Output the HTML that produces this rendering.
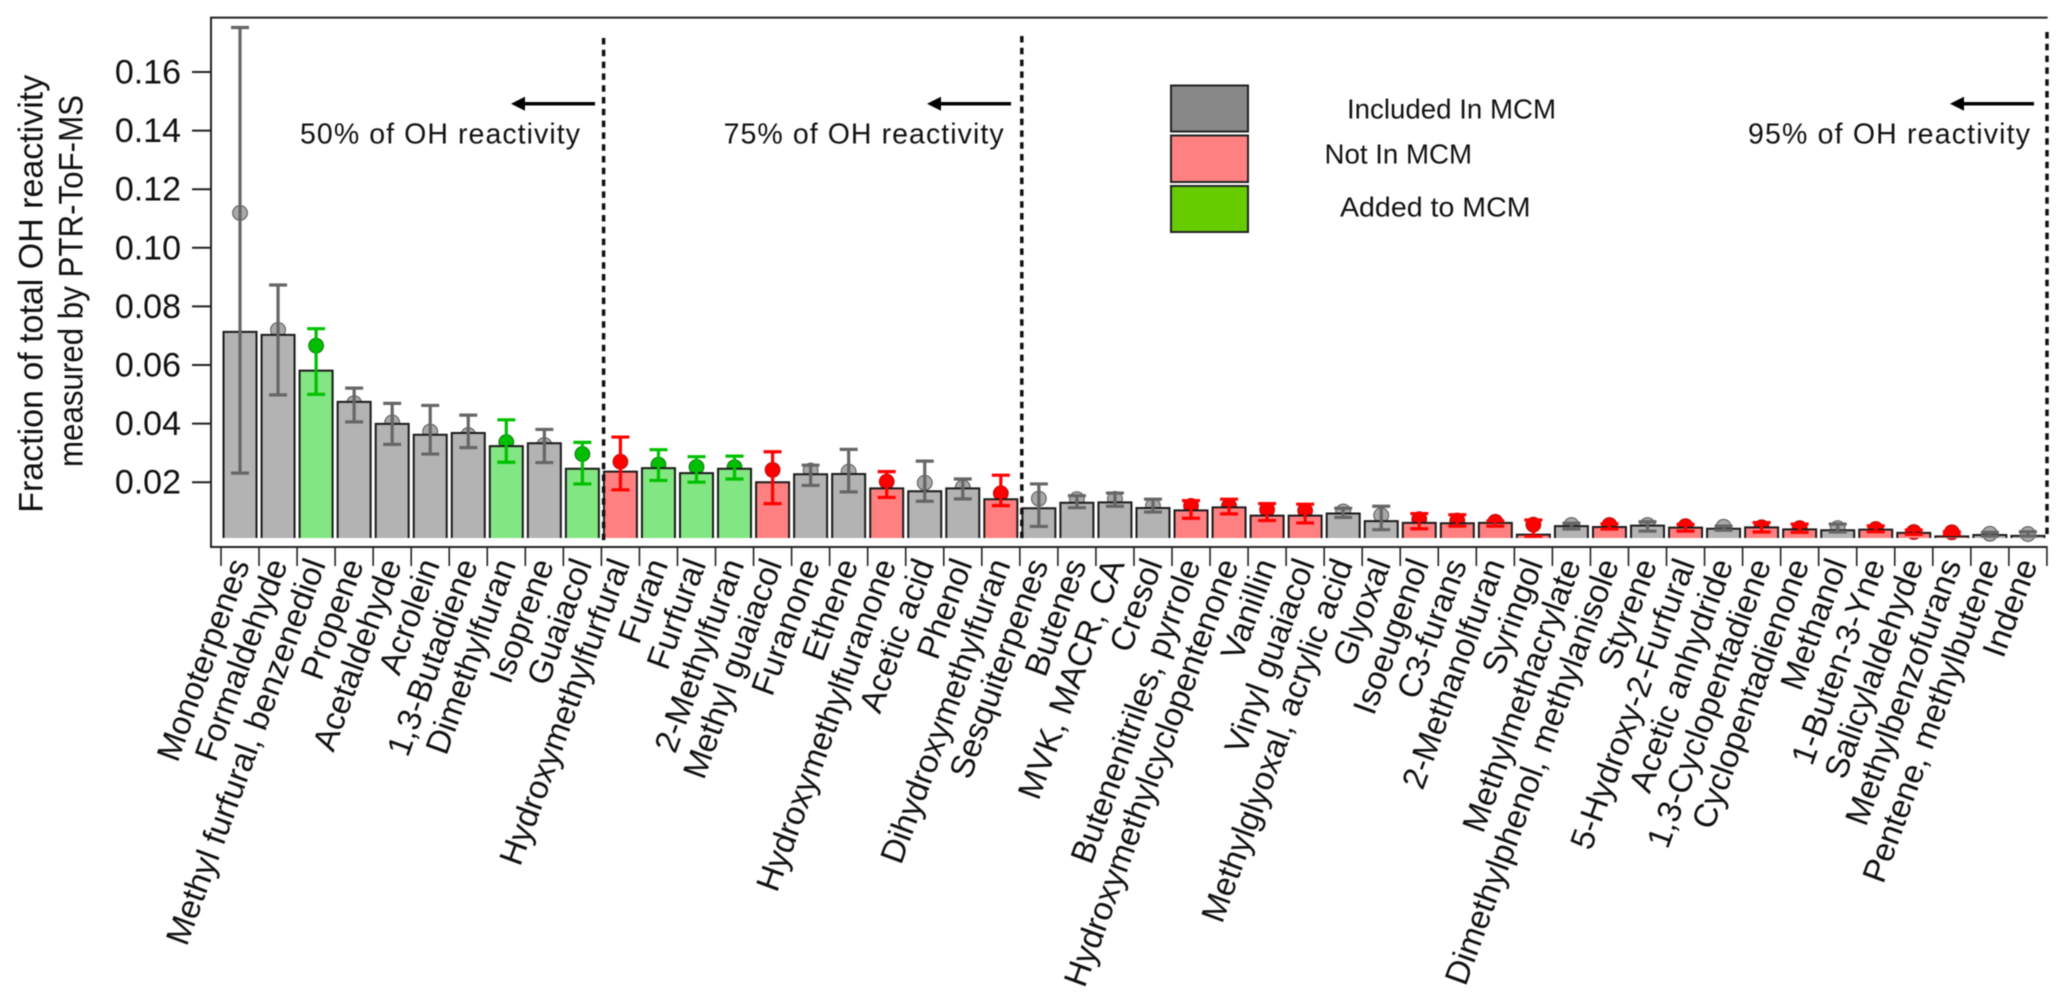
<!DOCTYPE html>
<html lang="en">
<head>
<meta charset="utf-8">
<title>Fraction of total OH reactivity measured by PTR-ToF-MS</title>
<style>
  html, body { margin: 0; padding: 0; background: #fff; }
  svg { display: block; font-family: "Liberation Sans", sans-serif; fill: #111; filter: blur(0.4px); }
</style>
</head>
<body>
<svg id="chart" width="2067" height="1000" viewBox="0 0 2067 1000" xmlns="http://www.w3.org/2000/svg">
  <rect x="0" y="0" width="2067" height="1000" fill="#fff"/>
  <g id="marks"></g>

  <path d="M2047.6 17.6H211V547H2047.6" fill="none" stroke="#222" stroke-width="2"/>

  <g id="y-axis"></g>
  <g id="x-axis"></g>

  <text transform="translate(42.4,512.8) rotate(-90)" font-size="34" textLength="438" lengthAdjust="spacingAndGlyphs">Fraction of total OH reactivity</text>
  <text transform="translate(82.6,467) rotate(-90)" font-size="34" textLength="372" lengthAdjust="spacingAndGlyphs">measured by PTR-ToF-MS</text>

  <line x1="603.6" y1="38" x2="603.6" y2="541.5" stroke="#111" stroke-width="3.5" stroke-dasharray="6.5 5.3"/>
  <line x1="1021.8" y1="36" x2="1021.8" y2="541.5" stroke="#111" stroke-width="3.5" stroke-dasharray="6.5 5.3"/>
  <line x1="2047" y1="32" x2="2047" y2="536" stroke="#111" stroke-width="3.5" stroke-dasharray="6.5 5.3"/>

  <g fill="#000" stroke="#000">
    <line x1="595" y1="103.7" x2="522" y2="103.7" stroke-width="3.5"/>
    <polygon points="511,103.7 525,96.7 525,110.7" stroke="none"/>
  </g>
  <g fill="#000" stroke="#000">
    <line x1="1011" y1="103.7" x2="938" y2="103.7" stroke-width="3.5"/>
    <polygon points="927,103.7 941,96.7 941,110.7" stroke="none"/>
  </g>
  <g fill="#000" stroke="#000">
    <line x1="2034" y1="103.7" x2="1961" y2="103.7" stroke-width="3.5"/>
    <polygon points="1950,103.7 1964,96.7 1964,110.7" stroke="none"/>
  </g>

  <text x="300" y="143.5" font-size="28.5" textLength="280" lengthAdjust="spacing">50% of OH reactivity</text>
  <text x="723.6" y="143.5" font-size="28.5" textLength="280" lengthAdjust="spacing">75% of OH reactivity</text>
  <text x="1748" y="143.5" font-size="28.5" textLength="282" lengthAdjust="spacing">95% of OH reactivity</text>

  <g>
    <rect x="1171" y="85.5" width="77" height="46" fill="#888888" stroke="#222" stroke-width="2"/>
    <rect x="1171" y="135.5" width="77" height="46.5" fill="#ff8080" stroke="#222" stroke-width="2"/>
    <rect x="1171" y="186" width="77" height="46" fill="#66cc00" stroke="#222" stroke-width="2"/>
    <text x="1347" y="118.3" font-size="27.5" textLength="209" lengthAdjust="spacingAndGlyphs">Included In MCM</text>
    <text x="1324.5" y="163.7" font-size="27.5" textLength="147.5" lengthAdjust="spacingAndGlyphs">Not In MCM</text>
    <text x="1340" y="216.7" font-size="27.5" textLength="190.5" lengthAdjust="spacingAndGlyphs">Added to MCM</text>
  </g>
</svg>

<script>
const categories = ["Monoterpenes","Formaldehyde","Methyl furfural, benzenediol","Propene","Acetaldehyde","Acrolein","1,3-Butadiene","Dimethylfuran","Isoprene","Guaiacol","Hydroxymethylfurfural","Furan","Furfural","2-Methylfuran","Methyl guaiacol","Furanone","Ethene","Hydroxymethylfuranone","Acetic acid","Phenol","Dihydroxymethylfuran","Sesquiterpenes","Butenes","MVK, MACR, CA","Cresol","Butenenitriles, pyrrole","Hydroxymethylcyclopentenone","Vanillin","Vinyl guaiacol","Methylglyoxal, acrylic acid","Glyoxal","Isoeugenol","C3-furans","2-Methanolfuran","Syringol","Methylmethacrylate","Dimethylphenol, methylanisole","Styrene","5-Hydroxy-2-Furfural","Acetic anhydride","1,3-Cyclopentadiene","Cyclopentadienone","Methanol","1-Buten-3-Yne","Salicylaldehyde","Methylbenzofurans","Pentene, methylbutene","Indene"];
const mcmStatus = ["in","in","added","in","in","in","in","added","in","added","not","added","added","added","not","in","in","not","in","in","not","in","in","in","in","not","not","not","not","in","in","not","not","not","not","in","not","in","not","in","not","not","in","not","not","not","in","in"];
const barValues = [0.0713,0.0703,0.0581,0.0474,0.0399,0.0362,0.0368,0.0323,0.0333,0.0246,0.0236,0.0248,0.0231,0.0246,0.0200,0.0227,0.0228,0.0179,0.0169,0.0179,0.0142,0.0111,0.0130,0.0131,0.0112,0.0104,0.0114,0.0086,0.0086,0.0093,0.0067,0.0061,0.0060,0.0061,0.0021,0.0050,0.0047,0.0052,0.0045,0.0041,0.0046,0.0039,0.0036,0.0038,0.0027,0.0015,0.0020,0.0017];
const markerValues = [0.1119,0.0720,0.0666,0.0470,0.0404,0.0373,0.0361,0.0337,0.0327,0.0296,0.0270,0.0260,0.0252,0.0251,0.0242,0.0240,0.0236,0.0202,0.0198,0.0182,0.0162,0.0144,0.0142,0.0143,0.0119,0.0119,0.0119,0.0106,0.0103,0.0100,0.0087,0.0074,0.0069,0.0065,0.0055,0.0054,0.0054,0.0054,0.0050,0.0048,0.0046,0.0043,0.0043,0.0040,0.0030,0.0029,0.0024,0.0023];
const errorUpper = [0.1752,0.0873,0.0724,0.0521,0.0469,0.0462,0.0429,0.0413,0.0380,0.0336,0.0354,0.0311,0.0287,0.0289,0.0304,0.0258,0.0312,0.0236,0.0272,0.0211,0.0224,0.0194,0.0154,0.0163,0.0142,0.0137,0.0142,0.0127,0.0125,0.0111,0.0118,0.0093,0.0089,0.0068,0.0071,0.0060,0.0058,0.0065,0.0056,0.0050,0.0062,0.0057,0.0057,0.0051,0.0037,0.0031,0.0029,0.0031];
const errorLower = [0.0231,0.0498,0.0500,0.0406,0.0329,0.0296,0.0318,0.0268,0.0267,0.0194,0.0174,0.0206,0.0200,0.0211,0.0127,0.0189,0.0167,0.0148,0.0135,0.0143,0.0120,0.0049,0.0113,0.0118,0.0098,0.0077,0.0092,0.0069,0.0061,0.0080,0.0038,0.0041,0.0050,0.0050,0.0015,0.0040,0.0040,0.0033,0.0033,0.0036,0.0030,0.0029,0.0030,0.0031,0.0022,0.0022,0.0016,0.0016];
const yTickValues = [0.02,0.04,0.06,0.08,0.10,0.12,0.14,0.16];
const yTickLabels = ["0.02","0.04","0.06","0.08","0.10","0.12","0.14","0.16"];
const barBaseValue = 0.00096;

const NS = "http://www.w3.org/2000/svg";
const statusStyles = {
  in:    { bar: "#b3b3b3", err: "#666666", dot: "#a8a8a8", dotStroke: "#555555" },
  not:   { bar: "#ff8080", err: "#ff0000", dot: "#ff0000", dotStroke: "#aa1111" },
  added: { bar: "#82e682", err: "#00c000", dot: "#00bf00", dotStroke: "#1a6e1a" }
};
const BAND = 38.04, LEFT = 221;
function xBandStart(i) { return LEFT + i * BAND; }
function xCenter(i) { return xBandStart(i) + BAND / 2; }
function yScale(v) { return 482.2 + (0.02 - v) * 2930; }
function el(tag, attrs, parent) {
  const node = document.createElementNS(NS, tag);
  for (const k in attrs) node.setAttribute(k, attrs[k]);
  parent.appendChild(node);
  return node;
}

const marks = document.getElementById("marks");
const xAxis = document.getElementById("x-axis");
const yAxis = document.getElementById("y-axis");

/* markers sit underneath the bars; error bars go on top */
categories.forEach(function (name, i) {
  const s = statusStyles[mcmStatus[i]];
  const dot = el("circle", { cx: xCenter(i), cy: yScale(markerValues[i]), r: 7.4, fill: s.dot, stroke: s.dotStroke, "stroke-width": 1 }, marks);
  
  
});
categories.forEach(function (name, i) {
  const s = statusStyles[mcmStatus[i]];
  const top = yScale(barValues[i]);
  const base = yScale(barBaseValue);
  const bar = el("path", {
    d: "M" + (xCenter(i) - 16.5) + " " + base + "V" + top + "H" + (xCenter(i) + 16.5) + "V" + base,
    fill: s.bar, stroke: "#1a1a1a", "stroke-width": 2
  }, marks);
  
  
});
categories.forEach(function (name, i) {
  const s = statusStyles[mcmStatus[i]];
  const cx = xCenter(i);
  const up = yScale(errorUpper[i]);
  const lo = yScale(errorLower[i]);
  const err = el("path", {
    d: "M" + cx + " " + up + "V" + lo + "M" + (cx - 9) + " " + up + "H" + (cx + 9) + "M" + (cx - 9) + " " + lo + "H" + (cx + 9),
    fill: "none", stroke: s.err, "stroke-width": 3.2
  }, marks);
  
  
});

yTickValues.forEach(function (v, i) {
  const y = yScale(v);
  const tick = el("line", { x1: 192, x2: 211, y1: y, y2: y, stroke: "#222", "stroke-width": 2 }, yAxis);
  
  
  const label = el("text", { x: 181, y: y + 11.5, "font-size": 34, "text-anchor": "end" }, yAxis);
  
  
  label.textContent = yTickLabels[i];
});

for (let i = 0; i <= categories.length; i++) {
  const tx = xBandStart(i);
  const tick = el("line", { x1: tx, x2: tx, y1: 547, y2: 566, stroke: "#222", "stroke-width": 1.6 }, xAxis);
  
  
}
categories.forEach(function (name, i) {
  const ax = xCenter(i) + 10;
  const label = el("text", { transform: "translate(" + ax + ",564) rotate(-70)", "font-size": 33.2, "text-anchor": "end" }, xAxis);
  
  
  label.textContent = name;
});
</script>
</body>
</html>
